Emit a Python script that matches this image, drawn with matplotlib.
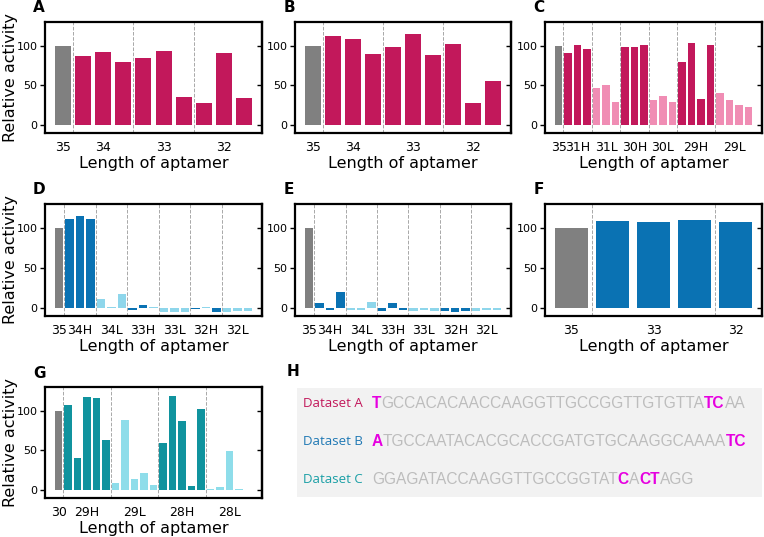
import matplotlib
matplotlib.use('Agg')
import matplotlib.pyplot as plt
import numpy as np

# ---------------- data ----------------
A_groups = ['35', '34', '33', '32']
A_sizes = [1, 3, 3, 3]
A_values = [100, 87, 92, 80, 84, 93, 35, 28, 91, 34]
A_kinds = 'RHHHHHHHHH'

B_groups = ['35', '34', '33', '32']
B_sizes = [1, 3, 3, 3]
B_values = [100, 112, 108, 90, 98, 115, 89, 102, 28, 55]
B_kinds = 'RHHHHHHHHH'

C_groups = ['35', '31H', '31L', '30H', '30L', '29H', '29L']
C_sizes = [1, 3, 3, 3, 3, 4, 4]
C_values = [100, 91, 101, 96, 47, 50, 29, 98, 98, 101, 31, 37, 29,
            79, 103, 33, 101, 41, 32, 25, 23]
C_kinds = 'RHHHLLLHHHLLLHHHHLLLL'

D_groups = ['35', '34H', '34L', '33H', '33L', '32H', '32L']
D_sizes = [1, 3, 3, 3, 3, 3, 3]
D_values = [100, 111, 115, 111, 11, 1, 18, -2, 4, 1, -5, -5, -5,
            -1, 1, -5, -5, -4, -4]
D_kinds = 'RHHHLLLHHLLLLHLHLLL'

E_groups = ['35', '34H', '34L', '33H', '33L', '32H', '32L']
E_sizes = [1, 3, 3, 3, 3, 3, 3]
E_values = [100, 6, -3, 20, -2, -2, 8, -4, 6, -3, -4, -2, -4,
            -4, -5, -4, -4, -3, -3]
E_kinds = 'RHHHLLLHHHLLLHHHLLL'

F_groups = ['35', '33', '32']
F_sizes = [1, 3, 1]
F_values = [100, 109, 108, 110, 107]
F_kinds = 'RHHHH'

G_groups = ['30', '29H', '29L', '28H', '28L']
G_sizes = [1, 5, 5, 5, 5]
G_values = [100, 107, 40, 118, 116, 63, 9, 89, 14, 21, 6,
            59, 119, 87, 5, 102, 1, 4, 49, 1, 0.5]
G_kinds = 'RHHHHHLLLLLHHHHHLLLLL'

seq_labels = ['Dataset A', 'Dataset B', 'Dataset C']
seq_parts = [
    [('T', True), ('GCCACACAACCAAGGTTGCCGGTTGTGTTA', False), ('TC', True), ('AA', False)],
    [('A', True), ('TGCCAATACACGCACCGATGTGCAAGGCAAAA', False), ('TC', True)],
    [('GGAGATACCAAGGTTGCCGGTAT', False), ('C', True), ('A', False), ('CT', True), ('AGG', False)],
]

# ---------------- style ----------------
GRAY = '#808080'
PAL_RED = {'R': GRAY, 'H': '#C2185B', 'L': '#F08DB4'}
PAL_BLUE = {'R': GRAY, 'H': '#0A72B3', 'L': '#8ED6EB'}
PAL_TEAL = {'R': GRAY, 'H': '#10939E', 'L': '#8EDDEA'}
LABEL_COLORS = ['#C2185B', '#1F78B4', '#1A9FA6']
HIGHLIGHT = '#E600E0'
SEQ_GRAY = '#BDBDBD'

plt.rcParams['font.family'] = ['DejaVu Sans']

fig = plt.figure(figsize=(7.64, 5.37), dpi=100)
W, H = 764, 537


def px_axes(l, t, r, b):
    return fig.add_axes([l / W, 1 - b / H, (r - l) / W, (b - t) / H])


def draw(ax, values, kinds, groups, sizes, pal, ylabel=False):
    x = np.arange(len(values))
    colors = [pal[k] for k in kinds]
    ax.bar(x, values, width=0.8, color=colors, zorder=3)
    bounds = np.cumsum(sizes)
    for bnd in bounds[:-1]:
        ax.axvline(bnd - 0.5, color='#A8A8A8', ls='--', lw=0.7, zorder=1)
    starts = np.concatenate([[0], bounds[:-1]])
    centers = [s + (n - 1) / 2 for s, n in zip(starts, sizes)]
    ax.set_xticks(centers)
    ax.set_xticklabels(groups, fontsize=9)
    ax.tick_params(axis='x', length=0, pad=6)
    ax.set_ylim(-10, 130)
    ax.set_yticks([0, 50, 100])
    ax.tick_params(axis='y', labelsize=8, direction='out', length=3.5,
                   width=1, pad=2)
    sec = ax.secondary_yaxis('right')
    sec.set_yticks([0, 50, 100])
    sec.tick_params(direction='in', labelright=False, length=3.5, width=1)
    sec.spines['right'].set_linewidth(1.6)
    for s in ax.spines.values():
        s.set_linewidth(1.6)
    ax.set_xlabel('Length of aptamer', fontsize=11.5, labelpad=1)
    if ylabel:
        ax.set_ylabel('Relative activity', fontsize=11.5)
        ax.yaxis.set_label_coords(-0.125, 0.5)


cols = [(45, 262), (295, 511), (545, 762)]
rows = [(22, 133), (204, 316), (387, 498)]

panels = [
    (0, 0, A_values, A_kinds, A_groups, A_sizes, PAL_RED, 'A'),
    (0, 1, B_values, B_kinds, B_groups, B_sizes, PAL_RED, 'B'),
    (0, 2, C_values, C_kinds, C_groups, C_sizes, PAL_RED, 'C'),
    (1, 0, D_values, D_kinds, D_groups, D_sizes, PAL_BLUE, 'D'),
    (1, 1, E_values, E_kinds, E_groups, E_sizes, PAL_BLUE, 'E'),
    (1, 2, F_values, F_kinds, F_groups, F_sizes, PAL_BLUE, 'F'),
    (2, 0, G_values, G_kinds, G_groups, G_sizes, PAL_TEAL, 'G'),
]

for r, c, vals, kinds, grps, sz, pal, letter in panels:
    l, rr = cols[c]
    t, b = rows[r]
    ax = px_axes(l, t, rr, b)
    draw(ax, vals, kinds, grps, sz, pal, ylabel=(c == 0))
    fig.text((l - 6) / W, 1 - (t - 14) / H, letter, fontsize=11,
             fontweight='bold', ha='center', va='center')

# ---------------- panel H ----------------
fig.text(293 / W, 1 - 372 / H, 'H', fontsize=11, fontweight='bold',
         ha='center', va='center')
axh = px_axes(297, 388, 762, 497)
axh.set_xlim(0, 1)
axh.set_ylim(0, 1)
axh.set_facecolor('#F2F2F2')
axh.set_xticks([])
axh.set_yticks([])
for s in axh.spines.values():
    s.set_visible(False)

fig.canvas.draw()
renderer = fig.canvas.get_renderer()
row_y = [0.862, 0.505, 0.165]
for i, (lab, parts) in enumerate(zip(seq_labels, seq_parts)):
    axh.text(0.013, row_y[i], lab, color=LABEL_COLORS[i], fontsize=9.5,
             family=['Open Sans', 'DejaVu Sans'], va='center', ha='left',
             transform=axh.transAxes)
    xpos = 0.161
    for s, bold in parts:
        t = axh.text(xpos, row_y[i], s, color=HIGHLIGHT if bold else SEQ_GRAY,
                     fontweight='bold' if bold else 'normal', fontsize=11.2,
                     family=['Liberation Sans', 'DejaVu Sans'], va='center',
                     ha='left', transform=axh.transAxes)
        bb = t.get_window_extent(renderer)
        xpos += bb.width / axh.bbox.width

fig.savefig('out.png', dpi=100)
